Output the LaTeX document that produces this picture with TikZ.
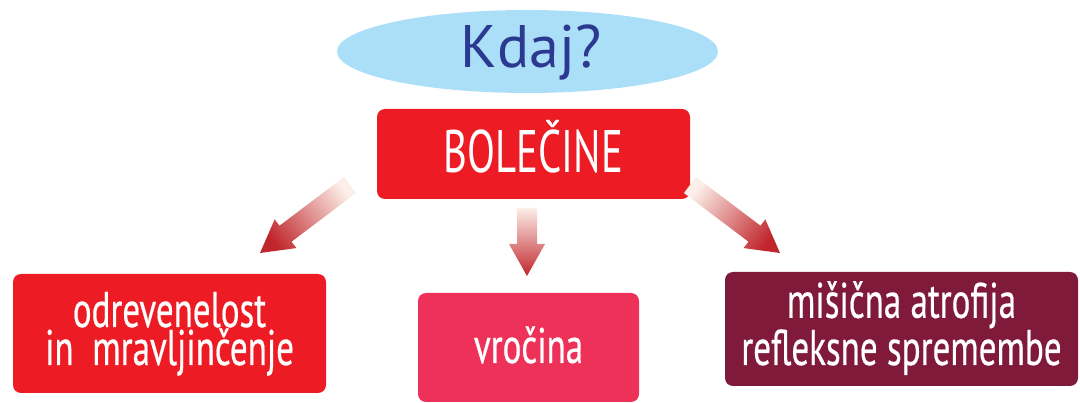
\documentclass[tikz,border=0pt]{standalone}
\usepackage{fontspec}
\setmainfont{PT Sans}
\newfontfamily\condf{PT Sans}[FakeStretch=0.68]
\newfontfamily\condg{PT Sans}[FakeStretch=0.70,FakeBold=0.4]
\usetikzlibrary{calc,shapes.geometric}
\definecolor{skyb}{RGB}{171,222,247}
\definecolor{navy}{RGB}{43,57,144}
\definecolor{bred}{RGB}{237,28,36}
\definecolor{bpink}{RGB}{238,49,88}
\definecolor{bmaroon}{RGB}{127,26,59}
\definecolor{arrdark}{RGB}{192,39,45}
\definecolor{arrlight}{RGB}{252,238,232}
\newcommand\fatarrow[4]{%
  \coordinate (#1h) at ($(#3)!32pt!(#2)$);
  \shade[shading=axis, top color=arrlight, bottom color=arrdark, shading angle=#4]
    ($(#2)!10pt!90:(#3)$) -- ($(#1h)!10pt!90:(#3)$) -- ($(#1h)!18pt!90:(#3)$) -- (#3)
    -- ($(#1h)!18pt!-90:(#3)$) -- ($(#1h)!10pt!-90:(#3)$) -- ($(#2)!10pt!-90:(#3)$) -- cycle;}
\begin{document}
\begin{tikzpicture}[x=1pt,y=-1pt,
  box/.style={rectangle, rounded corners=8pt, inner sep=0pt, text=white, align=center, text depth=0pt},
  bigtxt/.style={font=\condf\fontsize{60}{60}\selectfont},
  smalltxt/.style={font=\condg\fontsize{50}{38}\selectfont}]
\useasboundingbox (0,0) rectangle (1080,403);
% ellipse
\node[ellipse, fill=skyb, minimum width=381pt, minimum height=83pt, inner sep=0pt] (q) at (527.5,51.5) {};
\node[anchor=base, text=navy, font=\fontsize{60}{60}\selectfont, inner sep=0pt] (qt) at (531,68) {Kdaj?};
% main box
\node[box, bigtxt, fill=bred, minimum width=313pt, minimum height=90pt, text height=38pt] (b) at (533.5,154) {BOLEČINE};
% lower boxes
\node[box, smalltxt, fill=bred, minimum width=313pt, minimum height=119pt, text height=63pt] (l) at (169.5,333.5) {odrevenelost\\in\ \ mravljinčenje};
\node[box, smalltxt, fill=bpink, minimum width=221pt, minimum height=109pt, text height=31pt] (m) at (528.5,347.5) {vročina};
\node[box, smalltxt, fill=bmaroon, minimum width=353pt, minimum height=114pt, text height=72pt] (r) at (901.5,329) {mišična atrofija\\refleksne spremembe};
% arrows
\coordinate (lt) at (350,185);
\coordinate (lp) at (260,253);
\coordinate (mt) at (527,208);
\coordinate (mp) at (527,276);
\coordinate (rt) at (690,185);
\coordinate (rp) at (780,253);
\fatarrow{la}{lt}{lp}{-53}
\fatarrow{ma}{mt}{mp}{0}
\fatarrow{ra}{rt}{rp}{53}
\end{tikzpicture}
\end{document}
